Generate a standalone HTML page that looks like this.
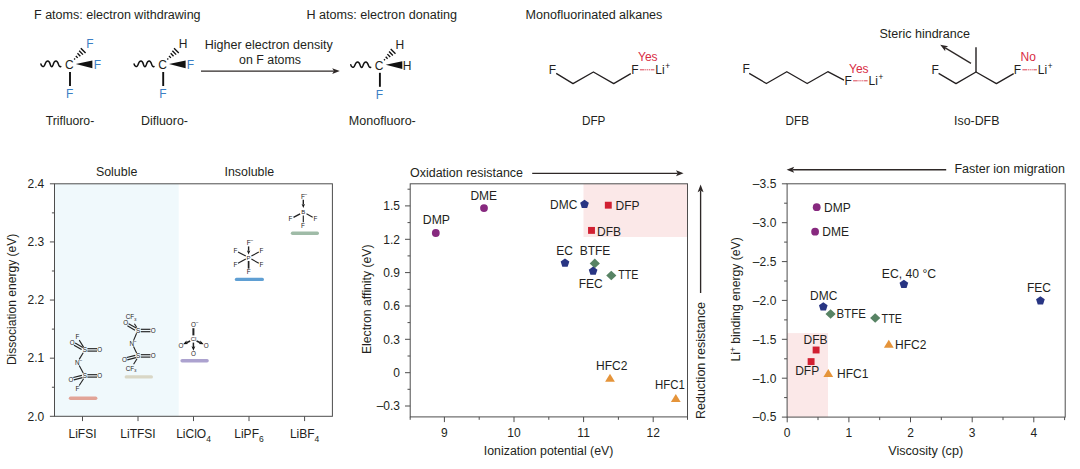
<!DOCTYPE html>
<html lang="en">
<head>
<meta charset="utf-8">
<title>Fluorinated solvents figure</title>
<style>
html,body{margin:0;padding:0;background:#fff;}
body{width:1080px;height:469px;overflow:hidden;font-family:"Liberation Sans",sans-serif;}
svg{display:block;font-family:"Liberation Sans",sans-serif;}
</style>
</head>
<body>
<svg width="1080" height="469" viewBox="0 0 1080 469">
<rect x="0" y="0" width="1080" height="469" fill="#ffffff"/>
<text x="34" y="18.6" font-size="12" fill="#231f20" text-anchor="start" textLength="166.6" lengthAdjust="spacingAndGlyphs">F atoms: electron withdrawing</text>
<text x="306.4" y="18.6" font-size="12" fill="#231f20" text-anchor="start" textLength="150.6" lengthAdjust="spacingAndGlyphs">H atoms: electron donating</text>
<text x="525.6" y="18.6" font-size="12" fill="#231f20" text-anchor="start" textLength="136.8" lengthAdjust="spacingAndGlyphs">Monofluorinated alkanes</text>
<path d="M40.90,64.00 C41.30,66.00 43.60,68.00 44.70,65.00 C45.60,62.40 46.30,61.10 47.80,61.10 C49.50,61.10 49.90,63.40 50.40,65.00 C51.00,67.00 52.20,67.40 53.00,65.00 C53.80,62.40 54.60,61.10 56.00,61.10 C57.70,61.10 58.10,63.40 58.70,65.00 C59.20,66.40 59.90,66.90 60.80,66.50" fill="none" stroke="#111" stroke-width="1.5" stroke-linecap="round"/>
<text x="69.3" y="69.1" font-size="12" fill="#231f20" text-anchor="middle">C</text>
<line x1="70.0" y1="72.0" x2="70.0" y2="86.0" stroke="#111" stroke-width="1.9"/>
<text x="69.6" y="97.69999999999999" font-size="12" fill="#3b7fc4" text-anchor="middle">F</text>
<path d="M75.80,64.00 L92.40,60.40 L92.40,68.20 Z" fill="#111"/>
<text x="97.3" y="69.3" font-size="12" fill="#3b7fc4" text-anchor="middle">F</text>
<line x1="74.11" y1="58.5" x2="75.09" y2="59.5" stroke="#111" stroke-width="1.35"/>
<line x1="75.79" y1="55.92" x2="77.71" y2="57.88" stroke="#111" stroke-width="1.35"/>
<line x1="77.47" y1="53.33" x2="80.33" y2="56.27" stroke="#111" stroke-width="1.35"/>
<line x1="79.15" y1="50.75" x2="82.95" y2="54.65" stroke="#111" stroke-width="1.35"/>
<line x1="80.82" y1="48.17" x2="85.58" y2="53.03" stroke="#111" stroke-width="1.35"/>
<text x="90.0" y="48.0" font-size="12" fill="#3b7fc4" text-anchor="middle">F</text>
<path d="M134.10,64.00 C134.50,66.00 136.80,68.00 137.90,65.00 C138.80,62.40 139.50,61.10 141.00,61.10 C142.70,61.10 143.10,63.40 143.60,65.00 C144.20,67.00 145.40,67.40 146.20,65.00 C147.00,62.40 147.80,61.10 149.20,61.10 C150.90,61.10 151.30,63.40 151.90,65.00 C152.40,66.40 153.10,66.90 154.00,66.50" fill="none" stroke="#111" stroke-width="1.5" stroke-linecap="round"/>
<text x="162.5" y="69.1" font-size="12" fill="#231f20" text-anchor="middle">C</text>
<line x1="163.20000000000002" y1="72.0" x2="163.20000000000002" y2="86.0" stroke="#111" stroke-width="1.9"/>
<text x="162.8" y="97.69999999999999" font-size="12" fill="#3b7fc4" text-anchor="middle">F</text>
<path d="M169.00,64.00 L185.60,60.40 L185.60,68.20 Z" fill="#111"/>
<text x="190.5" y="69.3" font-size="12" fill="#3b7fc4" text-anchor="middle">F</text>
<line x1="167.31" y1="58.5" x2="168.29" y2="59.5" stroke="#111" stroke-width="1.35"/>
<line x1="168.99" y1="55.92" x2="170.91" y2="57.88" stroke="#111" stroke-width="1.35"/>
<line x1="170.67" y1="53.33" x2="173.53" y2="56.27" stroke="#111" stroke-width="1.35"/>
<line x1="172.35" y1="50.75" x2="176.15" y2="54.65" stroke="#111" stroke-width="1.35"/>
<line x1="174.02" y1="48.17" x2="178.78" y2="53.03" stroke="#111" stroke-width="1.35"/>
<text x="183.20000000000002" y="48.0" font-size="12" fill="#231f20" text-anchor="middle">H</text>
<path d="M350.80,64.80 C351.20,66.80 353.50,68.80 354.60,65.80 C355.50,63.20 356.20,61.90 357.70,61.90 C359.40,61.90 359.80,64.20 360.30,65.80 C360.90,67.80 362.10,68.20 362.90,65.80 C363.70,63.20 364.50,61.90 365.90,61.90 C367.60,61.90 368.00,64.20 368.60,65.80 C369.10,67.20 369.80,67.70 370.70,67.30" fill="none" stroke="#111" stroke-width="1.5" stroke-linecap="round"/>
<text x="379.2" y="69.89999999999999" font-size="12" fill="#231f20" text-anchor="middle">C</text>
<line x1="379.9" y1="72.8" x2="379.9" y2="86.8" stroke="#111" stroke-width="1.9"/>
<text x="379.5" y="98.5" font-size="12" fill="#3b7fc4" text-anchor="middle">F</text>
<path d="M385.70,64.80 L402.30,61.20 L402.30,69.00 Z" fill="#111"/>
<text x="407.2" y="70.1" font-size="12" fill="#231f20" text-anchor="middle">H</text>
<line x1="384.01" y1="59.3" x2="384.99" y2="60.3" stroke="#111" stroke-width="1.35"/>
<line x1="385.69" y1="56.72" x2="387.61" y2="58.68" stroke="#111" stroke-width="1.35"/>
<line x1="387.37" y1="54.13" x2="390.23" y2="57.07" stroke="#111" stroke-width="1.35"/>
<line x1="389.05" y1="51.55" x2="392.85" y2="55.45" stroke="#111" stroke-width="1.35"/>
<line x1="390.72" y1="48.97" x2="395.48" y2="53.83" stroke="#111" stroke-width="1.35"/>
<text x="399.9" y="48.8" font-size="12" fill="#231f20" text-anchor="middle">H</text>
<text x="70" y="125" font-size="12" fill="#231f20" text-anchor="middle" textLength="48.5" lengthAdjust="spacingAndGlyphs">Trifluoro-</text>
<text x="164.5" y="125" font-size="12" fill="#231f20" text-anchor="middle" textLength="47" lengthAdjust="spacingAndGlyphs">Difluoro-</text>
<text x="382.3" y="125" font-size="12" fill="#231f20" text-anchor="middle" textLength="67" lengthAdjust="spacingAndGlyphs">Monofluoro-</text>
<text x="268.7" y="49" font-size="12" fill="#231f20" text-anchor="middle" textLength="128" lengthAdjust="spacingAndGlyphs">Higher electron density</text>
<text x="270" y="64.4" font-size="12" fill="#231f20" text-anchor="middle" textLength="62" lengthAdjust="spacingAndGlyphs">on F atoms</text>
<line x1="201" y1="71.1" x2="333.9" y2="71.1" stroke="#2e2827" stroke-width="1.35"/>
<path d="M339.80,71.10 L332.20,74.05 L333.90,71.10 L332.20,68.15 Z" fill="#2e2827"/>
<text x="552.5" y="73.6" font-size="12" fill="#231f20" text-anchor="middle">F</text>
<path d="M556.2,73.4 L573,83.6 L593.4,72 L613.7,83.6 L630.8,73.6" fill="none" stroke="#231f20" stroke-width="1.3" stroke-linejoin="round"/>
<text x="635" y="74.0" font-size="12" fill="#231f20" text-anchor="middle">F</text>
<line x1="639.9" y1="69.8" x2="654.4" y2="69.8" stroke="#d93a4c" stroke-width="0.95" stroke-dasharray="4.6,0.7,1.2,0.7,1.2,0.7,1.2,0.7,4"/>
<text x="655.3" y="74.0" font-size="12" fill="#231f20" text-anchor="start">Li</text>
<text x="665.2" y="69.3" font-size="8.2" fill="#111" text-anchor="start">+</text>
<text x="638" y="60.7" font-size="12" fill="#d82c43" text-anchor="start">Yes</text>
<text x="593.7" y="125" font-size="12" fill="#231f20" text-anchor="middle" textLength="23.4" lengthAdjust="spacingAndGlyphs">DFP</text>
<text x="746.2" y="73.2" font-size="12" fill="#231f20" text-anchor="middle">F</text>
<path d="M749.2,73.4 L766.4,83.5 L786.8,71.7 L807.2,83.5 L827.8,71.7 L844,80.2" fill="none" stroke="#231f20" stroke-width="1.3" stroke-linejoin="round"/>
<text x="848.2" y="85" font-size="12" fill="#231f20" text-anchor="middle">F</text>
<line x1="853.1" y1="80.8" x2="867.6" y2="80.8" stroke="#d93a4c" stroke-width="0.95" stroke-dasharray="4.6,0.7,1.2,0.7,1.2,0.7,1.2,0.7,4"/>
<text x="868.5" y="85" font-size="12" fill="#231f20" text-anchor="start">Li</text>
<text x="878.4000000000001" y="80.3" font-size="8.2" fill="#111" text-anchor="start">+</text>
<text x="849" y="73.4" font-size="12" fill="#d82c43" text-anchor="start">Yes</text>
<text x="797.3" y="125" font-size="12" fill="#231f20" text-anchor="middle" textLength="23.4" lengthAdjust="spacingAndGlyphs">DFB</text>
<text x="935.2" y="73.6" font-size="12" fill="#231f20" text-anchor="middle">F</text>
<path d="M938.6,73.4 L956,83.6 L976,72 L996.4,83.6 L1013.7,73.6" fill="none" stroke="#231f20" stroke-width="1.3" stroke-linejoin="round"/>
<line x1="976" y1="72" x2="976" y2="47.2" stroke="#231f20" stroke-width="1.4"/>
<text x="1017.5" y="74.0" font-size="12" fill="#231f20" text-anchor="middle">F</text>
<line x1="1022.4" y1="69.8" x2="1036.9" y2="69.8" stroke="#d93a4c" stroke-width="0.95" stroke-dasharray="4.6,0.7,1.2,0.7,1.2,0.7,1.2,0.7,4"/>
<text x="1037.8" y="74.0" font-size="12" fill="#231f20" text-anchor="start">Li</text>
<text x="1047.7" y="69.3" font-size="8.2" fill="#111" text-anchor="start">+</text>
<text x="1020.6" y="60.7" font-size="12" fill="#d82c43" text-anchor="start">No</text>
<text x="976.7" y="125" font-size="12" fill="#231f20" text-anchor="middle" textLength="45.4" lengthAdjust="spacingAndGlyphs">Iso-DFB</text>
<text x="879.4" y="38" font-size="12" fill="#231f20" text-anchor="start" textLength="90.6" lengthAdjust="spacingAndGlyphs">Steric hindrance</text>
<line x1="971" y1="63.3" x2="945.26" y2="47.84" stroke="#2e2827" stroke-width="1.35"/>
<path d="M940.20,44.80 L948.23,46.18 L945.26,47.84 L945.20,51.24 Z" fill="#2e2827"/>
<rect x="54.5" y="183.8" width="124.19999999999999" height="232.5" fill="#f0f9fc"/>
<rect x="54.5" y="183.8" width="277.9" height="232.5" fill="none" stroke="#4d4d4d" stroke-width="1"/>
<line x1="49.9" y1="183.8" x2="54.5" y2="183.8" stroke="#4d4d4d" stroke-width="1"/>
<text x="44.3" y="188.10000000000002" font-size="12" fill="#231f20" text-anchor="end">2.4</text>
<line x1="51.9" y1="212.8625" x2="54.5" y2="212.8625" stroke="#4d4d4d" stroke-width="1"/>
<line x1="49.9" y1="241.925" x2="54.5" y2="241.925" stroke="#4d4d4d" stroke-width="1"/>
<text x="44.3" y="246.22500000000002" font-size="12" fill="#231f20" text-anchor="end">2.3</text>
<line x1="51.9" y1="270.9875" x2="54.5" y2="270.9875" stroke="#4d4d4d" stroke-width="1"/>
<line x1="49.9" y1="300.05" x2="54.5" y2="300.05" stroke="#4d4d4d" stroke-width="1"/>
<text x="44.3" y="304.35" font-size="12" fill="#231f20" text-anchor="end">2.2</text>
<line x1="51.9" y1="329.1125" x2="54.5" y2="329.1125" stroke="#4d4d4d" stroke-width="1"/>
<line x1="49.9" y1="358.175" x2="54.5" y2="358.175" stroke="#4d4d4d" stroke-width="1"/>
<text x="44.3" y="362.475" font-size="12" fill="#231f20" text-anchor="end">2.1</text>
<line x1="51.9" y1="387.2375" x2="54.5" y2="387.2375" stroke="#4d4d4d" stroke-width="1"/>
<line x1="49.9" y1="416.3" x2="54.5" y2="416.3" stroke="#4d4d4d" stroke-width="1"/>
<text x="44.3" y="420.6" font-size="12" fill="#231f20" text-anchor="end">2.0</text>
<line x1="82.5" y1="416.3" x2="82.5" y2="421.1" stroke="#4d4d4d" stroke-width="1"/>
<text x="82.5" y="437.7" font-size="12" fill="#231f20" text-anchor="middle">LiFSI</text>
<line x1="138" y1="416.3" x2="138" y2="421.1" stroke="#4d4d4d" stroke-width="1"/>
<text x="138" y="437.7" font-size="12" fill="#231f20" text-anchor="middle">LiTFSI</text>
<line x1="193.5" y1="416.3" x2="193.5" y2="421.1" stroke="#4d4d4d" stroke-width="1"/>
<text x="193.5" y="437.7" font-size="12" fill="#231f20" text-anchor="middle">LiClO<tspan font-size="8.5" dy="4">4</tspan></text>
<line x1="249" y1="416.3" x2="249" y2="421.1" stroke="#4d4d4d" stroke-width="1"/>
<text x="249" y="437.7" font-size="12" fill="#231f20" text-anchor="middle">LiPF<tspan font-size="8.5" dy="4">6</tspan></text>
<line x1="304.6" y1="416.3" x2="304.6" y2="421.1" stroke="#4d4d4d" stroke-width="1"/>
<text x="304.6" y="437.7" font-size="12" fill="#231f20" text-anchor="middle">LiBF<tspan font-size="8.5" dy="4">4</tspan></text>
<text x="116.6" y="175.5" font-size="12" fill="#231f20" text-anchor="middle" textLength="41.4" lengthAdjust="spacingAndGlyphs">Soluble</text>
<text x="249.3" y="175.5" font-size="12" fill="#231f20" text-anchor="middle" textLength="49.6" lengthAdjust="spacingAndGlyphs">Insoluble</text>
<text transform="translate(15.8,299.4) rotate(-90)" font-size="12" fill="#231f20" text-anchor="middle" textLength="131.4" lengthAdjust="spacingAndGlyphs">Dissociation energy (eV)</text>
<line x1="70.5" y1="398.2" x2="95.7" y2="398.2" stroke="#e2a497" stroke-width="3.4" stroke-linecap="round"/>
<line x1="126.3" y1="376.9" x2="151.3" y2="376.9" stroke="#d9d7c6" stroke-width="3.4" stroke-linecap="round"/>
<line x1="182.1" y1="360.7" x2="207.10000000000002" y2="360.7" stroke="#aca2cf" stroke-width="3.4" stroke-linecap="round"/>
<line x1="236.5" y1="279.4" x2="262.3" y2="279.4" stroke="#5f9fd3" stroke-width="3.4" stroke-linecap="round"/>
<line x1="292.5" y1="233.3" x2="317.3" y2="233.3" stroke="#9fbba7" stroke-width="3.4" stroke-linecap="round"/>
<text x="84.8" y="352.16799999999995" font-size="6.3" fill="#262223" text-anchor="middle">S</text>
<text x="84.8" y="378.16799999999995" font-size="6.3" fill="#262223" text-anchor="middle">S</text>
<text x="99.8" y="352.16799999999995" font-size="6.3" fill="#262223" text-anchor="middle">O</text>
<text x="99.8" y="378.16799999999995" font-size="6.3" fill="#262223" text-anchor="middle">O</text>
<line x1="87.4" y1="351.1" x2="97.0" y2="351.1" stroke="#222" stroke-width="1.15"/>
<line x1="87.4" y1="348.7" x2="97.0" y2="348.7" stroke="#222" stroke-width="1.15"/>
<line x1="87.4" y1="377.1" x2="97.0" y2="377.1" stroke="#222" stroke-width="1.15"/>
<line x1="87.4" y1="374.7" x2="97.0" y2="374.7" stroke="#222" stroke-width="1.15"/>
<text x="77.39999999999999" y="364.66799999999995" font-size="6.3" fill="#262223" text-anchor="middle">N</text>
<text x="80.8" y="361.856" font-size="4.6" fill="#262223" text-anchor="middle">&#8211;</text>
<line x1="83.2" y1="352.7" x2="79.2" y2="359.4" stroke="#222" stroke-width="1.1"/>
<line x1="79.2" y1="365.4" x2="83.2" y2="373.09999999999997" stroke="#222" stroke-width="1.1"/>
<text x="72.2" y="344.768" font-size="6.3" fill="#262223" text-anchor="middle">O</text>
<line x1="74.0" y1="345.14" x2="81.6" y2="349.54" stroke="#222" stroke-width="1.15"/>
<line x1="75.2" y1="343.06" x2="82.8" y2="347.46" stroke="#222" stroke-width="1.15"/>
<text x="77.39999999999999" y="339.36799999999994" font-size="6.3" fill="#262223" text-anchor="middle">F</text>
<line x1="79.2" y1="340.09999999999997" x2="83.6" y2="347.09999999999997" stroke="#222" stroke-width="1.1"/>
<text x="71.0" y="381.768" font-size="6.3" fill="#262223" text-anchor="middle">O</text>
<line x1="73.9" y1="379.86" x2="82.5" y2="377.66" stroke="#222" stroke-width="1.15"/>
<line x1="73.3" y1="377.54" x2="81.9" y2="375.34" stroke="#222" stroke-width="1.15"/>
<text x="77.39999999999999" y="390.768" font-size="6.3" fill="#262223" text-anchor="middle">F</text>
<line x1="79.2" y1="385.5" x2="83.6" y2="378.7" stroke="#222" stroke-width="1.1"/>
<text x="138.2" y="332.768" font-size="6.3" fill="#262223" text-anchor="middle">S</text>
<text x="138.2" y="358.16799999999995" font-size="6.3" fill="#262223" text-anchor="middle">S</text>
<text x="153.2" y="332.768" font-size="6.3" fill="#262223" text-anchor="middle">O</text>
<text x="153.2" y="358.16799999999995" font-size="6.3" fill="#262223" text-anchor="middle">O</text>
<line x1="140.8" y1="331.7" x2="150.4" y2="331.7" stroke="#222" stroke-width="1.15"/>
<line x1="140.8" y1="329.3" x2="150.4" y2="329.3" stroke="#222" stroke-width="1.15"/>
<line x1="140.8" y1="357.1" x2="150.4" y2="357.1" stroke="#222" stroke-width="1.15"/>
<line x1="140.8" y1="354.7" x2="150.4" y2="354.7" stroke="#222" stroke-width="1.15"/>
<text x="131.7" y="345.868" font-size="6.3" fill="#262223" text-anchor="middle">N</text>
<text x="135.1" y="343.05600000000004" font-size="4.6" fill="#262223" text-anchor="middle">&#8211;</text>
<line x1="136.6" y1="333.3" x2="133.5" y2="340.6" stroke="#222" stroke-width="1.1"/>
<line x1="133.5" y1="346.6" x2="136.6" y2="353.09999999999997" stroke="#222" stroke-width="1.1"/>
<text x="125.6" y="325.368" font-size="6.3" fill="#262223" text-anchor="middle">O</text>
<line x1="127.4" y1="325.74" x2="135.0" y2="330.14" stroke="#222" stroke-width="1.15"/>
<line x1="128.6" y1="323.66" x2="136.2" y2="328.06" stroke="#222" stroke-width="1.15"/>
<text x="131.1" y="319.368" font-size="6.3" fill="#262223" text-anchor="middle">CF<tspan font-size="4.4" dy="1.5">3</tspan></text>
<line x1="134.39999999999998" y1="323.7" x2="136.79999999999998" y2="327.5" stroke="#222" stroke-width="1.1"/>
<text x="124.39999999999999" y="361.768" font-size="6.3" fill="#262223" text-anchor="middle">O</text>
<line x1="127.3" y1="359.86" x2="135.9" y2="357.66" stroke="#222" stroke-width="1.15"/>
<line x1="126.7" y1="357.54" x2="135.3" y2="355.34" stroke="#222" stroke-width="1.15"/>
<text x="131.1" y="370.768" font-size="6.3" fill="#262223" text-anchor="middle">CF<tspan font-size="4.4" dy="1.5">3</tspan></text>
<line x1="133.6" y1="364.29999999999995" x2="137.0" y2="358.7" stroke="#222" stroke-width="1.1"/>
<text x="193.6" y="341.36" font-size="6.0" fill="#262223" text-anchor="middle">Cl</text>
<text x="193.4" y="326.86799999999994" font-size="6.3" fill="#262223" text-anchor="middle">O</text>
<text x="197.0" y="324.056" font-size="4.6" fill="#262223" text-anchor="middle">&#8211;</text>
<line x1="193.4" y1="328.2" x2="193.4" y2="335.4" stroke="#222" stroke-width="2.0"/>
<text x="181.0" y="347.66799999999995" font-size="6.3" fill="#262223" text-anchor="middle">O</text>
<text x="206.20000000000002" y="347.66799999999995" font-size="6.3" fill="#262223" text-anchor="middle">O</text>
<text x="193.4" y="355.768" font-size="6.3" fill="#262223" text-anchor="middle">O</text>
<line x1="190.20000000000002" y1="341.0" x2="186.4" y2="342.8" stroke="#222" stroke-width="1.5"/>
<path transform="translate(183.4,344.09999999999997) rotate(155)" d="M0.3,0 L-4.3,-1.892 L-3.354,0 L-4.3,1.892 Z" fill="#111"/>
<line x1="196.6" y1="341.0" x2="200.4" y2="342.8" stroke="#222" stroke-width="1.5"/>
<path transform="translate(203.4,344.09999999999997) rotate(25)" d="M0.3,0 L-4.3,-1.892 L-3.354,0 L-4.3,1.892 Z" fill="#111"/>
<line x1="193.4" y1="342.59999999999997" x2="193.4" y2="347.2" stroke="#222" stroke-width="1.5"/>
<path transform="translate(193.4,350.5) rotate(90)" d="M0.3,0 L-4.3,-1.892 L-3.354,0 L-4.3,1.892 Z" fill="#111"/>
<text x="248.6" y="259.76000000000005" font-size="6.0" fill="#262223" text-anchor="middle">P</text>
<text x="248.79999999999998" y="245.46800000000002" font-size="6.3" fill="#262223" text-anchor="middle">F</text>
<text x="251.79999999999998" y="242.45600000000002" font-size="4.6" fill="#262223" text-anchor="middle">&#8211;</text>
<line x1="248.6" y1="246.40000000000003" x2="248.6" y2="250.8" stroke="#222" stroke-width="1.4"/>
<path transform="translate(248.6,254.20000000000002) rotate(90)" d="M0.3,0 L-3.8,-1.672 L-2.964,0 L-3.8,1.672 Z" fill="#111"/>
<text x="235.4" y="252.66800000000003" font-size="6.3" fill="#262223" text-anchor="middle">F</text>
<text x="261.4" y="252.66800000000003" font-size="6.3" fill="#262223" text-anchor="middle">F</text>
<text x="235.4" y="266.868" font-size="6.3" fill="#262223" text-anchor="middle">F</text>
<text x="261.4" y="266.868" font-size="6.3" fill="#262223" text-anchor="middle">F</text>
<line x1="238.0" y1="252.00000000000003" x2="245.79999999999998" y2="256.1" stroke="#222" stroke-width="1.15"/>
<line x1="258.8" y1="252.00000000000003" x2="251.4" y2="256.1" stroke="#222" stroke-width="1.15"/>
<line x1="238.0" y1="263.20000000000005" x2="245.79999999999998" y2="259.1" stroke="#222" stroke-width="1.15"/>
<line x1="258.8" y1="263.20000000000005" x2="251.4" y2="259.1" stroke="#222" stroke-width="1.15"/>
<line x1="248.6" y1="261.0" x2="248.6" y2="268.6" stroke="#222" stroke-width="1.7"/>
<text x="248.6" y="273.868" font-size="6.3" fill="#262223" text-anchor="middle">F</text>
<text x="303.3" y="214.16" font-size="6.0" fill="#262223" text-anchor="middle">B</text>
<text x="302.90000000000003" y="198.668" font-size="6.3" fill="#262223" text-anchor="middle">F</text>
<text x="305.90000000000003" y="195.656" font-size="4.6" fill="#262223" text-anchor="middle">&#8211;</text>
<line x1="303.3" y1="199.8" x2="303.3" y2="204.4" stroke="#222" stroke-width="1.4"/>
<path transform="translate(303.3,207.8) rotate(90)" d="M0.3,0 L-3.8,-1.672 L-2.964,0 L-3.8,1.672 Z" fill="#111"/>
<text x="290.5" y="221.068" font-size="6.3" fill="#262223" text-anchor="middle">F</text>
<text x="315.5" y="221.068" font-size="6.3" fill="#262223" text-anchor="middle">F</text>
<text x="303.0" y="227.668" font-size="6.3" fill="#262223" text-anchor="middle">F</text>
<line x1="300.1" y1="213.8" x2="293.5" y2="217.4" stroke="#222" stroke-width="1.4"/>
<line x1="306.5" y1="213.8" x2="312.7" y2="217.2" stroke="#222" stroke-width="1.15"/>
<line x1="303.3" y1="215.4" x2="303.3" y2="222.2" stroke="#222" stroke-width="1.15"/>
<rect x="583.5" y="183.8" width="104.0" height="53.19999999999999" fill="#fbe8e8"/>
<rect x="410.2" y="183.8" width="277.3" height="233.09999999999997" fill="none" stroke="#4d4d4d" stroke-width="1"/>
<line x1="405.0" y1="205.9" x2="410.2" y2="205.9" stroke="#4d4d4d" stroke-width="1"/>
<text x="400.0" y="210.20000000000002" font-size="12" fill="#231f20" text-anchor="end">1.5</text>
<line x1="405.0" y1="239.3" x2="410.2" y2="239.3" stroke="#4d4d4d" stroke-width="1"/>
<text x="400.0" y="243.60000000000002" font-size="12" fill="#231f20" text-anchor="end">1.2</text>
<line x1="405.0" y1="272.6" x2="410.2" y2="272.6" stroke="#4d4d4d" stroke-width="1"/>
<text x="400.0" y="276.90000000000003" font-size="12" fill="#231f20" text-anchor="end">0.9</text>
<line x1="405.0" y1="306.0" x2="410.2" y2="306.0" stroke="#4d4d4d" stroke-width="1"/>
<text x="400.0" y="310.3" font-size="12" fill="#231f20" text-anchor="end">0.6</text>
<line x1="405.0" y1="339.3" x2="410.2" y2="339.3" stroke="#4d4d4d" stroke-width="1"/>
<text x="400.0" y="343.6" font-size="12" fill="#231f20" text-anchor="end">0.3</text>
<line x1="405.0" y1="372.7" x2="410.2" y2="372.7" stroke="#4d4d4d" stroke-width="1"/>
<text x="400.0" y="377.0" font-size="12" fill="#231f20" text-anchor="end">0</text>
<line x1="405.0" y1="406.0" x2="410.2" y2="406.0" stroke="#4d4d4d" stroke-width="1"/>
<text x="400.0" y="410.3" font-size="12" fill="#231f20" text-anchor="end">&#8211;0.3</text>
<line x1="407.5" y1="189.2" x2="410.2" y2="189.2" stroke="#4d4d4d" stroke-width="1"/>
<line x1="407.5" y1="222.6" x2="410.2" y2="222.6" stroke="#4d4d4d" stroke-width="1"/>
<line x1="407.5" y1="255.9" x2="410.2" y2="255.9" stroke="#4d4d4d" stroke-width="1"/>
<line x1="407.5" y1="289.3" x2="410.2" y2="289.3" stroke="#4d4d4d" stroke-width="1"/>
<line x1="407.5" y1="322.6" x2="410.2" y2="322.6" stroke="#4d4d4d" stroke-width="1"/>
<line x1="407.5" y1="356.0" x2="410.2" y2="356.0" stroke="#4d4d4d" stroke-width="1"/>
<line x1="407.5" y1="389.3" x2="410.2" y2="389.3" stroke="#4d4d4d" stroke-width="1"/>
<line x1="444.4" y1="416.9" x2="444.4" y2="422.09999999999997" stroke="#4d4d4d" stroke-width="1"/>
<text x="444.4" y="437.3" font-size="12" fill="#231f20" text-anchor="middle">9</text>
<line x1="514.0" y1="416.9" x2="514.0" y2="422.09999999999997" stroke="#4d4d4d" stroke-width="1"/>
<text x="514.0" y="437.3" font-size="12" fill="#231f20" text-anchor="middle">10</text>
<line x1="583.6" y1="416.9" x2="583.6" y2="422.09999999999997" stroke="#4d4d4d" stroke-width="1"/>
<text x="583.6" y="437.3" font-size="12" fill="#231f20" text-anchor="middle">11</text>
<line x1="653.2" y1="416.9" x2="653.2" y2="422.09999999999997" stroke="#4d4d4d" stroke-width="1"/>
<text x="653.2" y="437.3" font-size="12" fill="#231f20" text-anchor="middle">12</text>
<line x1="410.2" y1="416.9" x2="410.2" y2="419.79999999999995" stroke="#4d4d4d" stroke-width="1"/>
<line x1="479.2" y1="416.9" x2="479.2" y2="419.79999999999995" stroke="#4d4d4d" stroke-width="1"/>
<line x1="548.8" y1="416.9" x2="548.8" y2="419.79999999999995" stroke="#4d4d4d" stroke-width="1"/>
<line x1="618.4" y1="416.9" x2="618.4" y2="419.79999999999995" stroke="#4d4d4d" stroke-width="1"/>
<line x1="687.5" y1="416.9" x2="687.5" y2="419.79999999999995" stroke="#4d4d4d" stroke-width="1"/>
<text x="548.6" y="455" font-size="12" fill="#231f20" text-anchor="middle" textLength="129.5" lengthAdjust="spacingAndGlyphs">Ionization potential (eV)</text>
<text transform="translate(370.8,299.3) rotate(-90)" font-size="12" fill="#231f20" text-anchor="middle" textLength="109.6" lengthAdjust="spacingAndGlyphs">Electron affinity (eV)</text>
<text x="410" y="177.2" font-size="12" fill="#231f20" text-anchor="start" textLength="113" lengthAdjust="spacingAndGlyphs">Oxidation resistance</text>
<line x1="532.2" y1="173.3" x2="677.7" y2="173.3" stroke="#2e2827" stroke-width="1.35"/>
<path d="M683.60,173.30 L676.00,176.25 L677.70,173.30 L676.00,170.35 Z" fill="#2e2827"/>
<line x1="700.6" y1="293" x2="700.6" y2="190.5" stroke="#2e2827" stroke-width="1.35"/>
<path d="M700.60,184.60 L703.55,192.20 L700.60,190.50 L697.65,192.20 Z" fill="#2e2827"/>
<text transform="translate(704.8,360.6) rotate(-90)" font-size="12" fill="#231f20" text-anchor="middle" textLength="117" lengthAdjust="spacingAndGlyphs">Reduction resistance</text>
<circle cx="435.8" cy="233" r="3.9" fill="#87297f"/>
<text x="436.4" y="223.8" font-size="12" fill="#231f20" text-anchor="middle" textLength="27.2" lengthAdjust="spacingAndGlyphs">DMP</text>
<circle cx="484" cy="208.1" r="3.9" fill="#87297f"/>
<text x="483.7" y="200.2" font-size="12" fill="#231f20" text-anchor="middle" textLength="26.6" lengthAdjust="spacingAndGlyphs">DME</text>
<polygon points="584.50,199.65 588.83,202.79 587.17,207.88 581.83,207.88 580.17,202.79" fill="#283583"/>
<text x="577.3" y="208.6" font-size="12" fill="#231f20" text-anchor="end" textLength="27.2" lengthAdjust="spacingAndGlyphs">DMC</text>
<rect x="604.8499999999999" y="201.75" width="6.9" height="6.9" fill="#d12032"/>
<text x="615.5" y="209.7" font-size="12" fill="#231f20" text-anchor="start">DFP</text>
<rect x="588.05" y="226.95000000000002" width="6.9" height="6.9" fill="#d12032"/>
<text x="597" y="235.7" font-size="12" fill="#231f20" text-anchor="start">DFB</text>
<polygon points="565.00,258.45 569.33,261.59 567.67,266.68 562.33,266.68 560.67,261.59" fill="#283583"/>
<text x="564.7" y="255.3" font-size="12" fill="#231f20" text-anchor="middle">EC</text>
<polygon points="589.6999999999999,263.4 594.8,258.59999999999997 599.9,263.4 594.8,268.2" fill="#578364"/>
<text x="595" y="255.4" font-size="12" fill="#231f20" text-anchor="middle">BTFE</text>
<polygon points="593.10,266.55 597.43,269.69 595.77,274.78 590.43,274.78 588.77,269.69" fill="#283583"/>
<text x="590.7" y="288.2" font-size="12" fill="#231f20" text-anchor="middle">FEC</text>
<polygon points="606.1999999999999,275.5 611.3,270.7 616.4,275.5 611.3,280.3" fill="#578364"/>
<text x="618.3" y="279.2" font-size="12" fill="#231f20" text-anchor="start" textLength="20.2" lengthAdjust="spacingAndGlyphs">TTE</text>
<polygon points="605.1,381.8 614.9,381.8 610,373.8" fill="#e5943a"/>
<text x="611.7" y="369.9" font-size="12" fill="#231f20" text-anchor="middle" textLength="31.4" lengthAdjust="spacingAndGlyphs">HFC2</text>
<polygon points="670.9,402.0 680.6999999999999,402.0 675.8,394.0" fill="#e5943a"/>
<text x="669.9" y="389.3" font-size="12" fill="#231f20" text-anchor="middle" textLength="29.8" lengthAdjust="spacingAndGlyphs">HFC1</text>
<rect x="787.1" y="333.1" width="40.89999999999998" height="84.0" fill="#fbe8e8"/>
<rect x="787.1" y="183.8" width="278.1" height="233.3" fill="none" stroke="#4d4d4d" stroke-width="1"/>
<line x1="781.9" y1="183.8" x2="787.1" y2="183.8" stroke="#4d4d4d" stroke-width="1"/>
<text x="776.4" y="188.10000000000002" font-size="12" fill="#231f20" text-anchor="end" textLength="23.6" lengthAdjust="spacing">&#8211;3.5</text>
<line x1="784.1" y1="203.2" x2="787.1" y2="203.2" stroke="#4d4d4d" stroke-width="1"/>
<line x1="781.9" y1="222.7" x2="787.1" y2="222.7" stroke="#4d4d4d" stroke-width="1"/>
<text x="776.4" y="227.0" font-size="12" fill="#231f20" text-anchor="end" textLength="23.6" lengthAdjust="spacing">&#8211;3.0</text>
<line x1="784.1" y1="242.1" x2="787.1" y2="242.1" stroke="#4d4d4d" stroke-width="1"/>
<line x1="781.9" y1="261.6" x2="787.1" y2="261.6" stroke="#4d4d4d" stroke-width="1"/>
<text x="776.4" y="265.90000000000003" font-size="12" fill="#231f20" text-anchor="end" textLength="23.6" lengthAdjust="spacing">&#8211;2.5</text>
<line x1="784.1" y1="281.0" x2="787.1" y2="281.0" stroke="#4d4d4d" stroke-width="1"/>
<line x1="781.9" y1="300.4" x2="787.1" y2="300.4" stroke="#4d4d4d" stroke-width="1"/>
<text x="776.4" y="304.7" font-size="12" fill="#231f20" text-anchor="end" textLength="23.6" lengthAdjust="spacing">&#8211;2.0</text>
<line x1="784.1" y1="319.9" x2="787.1" y2="319.9" stroke="#4d4d4d" stroke-width="1"/>
<line x1="781.9" y1="339.3" x2="787.1" y2="339.3" stroke="#4d4d4d" stroke-width="1"/>
<text x="776.4" y="343.6" font-size="12" fill="#231f20" text-anchor="end" textLength="23.6" lengthAdjust="spacing">&#8211;1.5</text>
<line x1="784.1" y1="358.8" x2="787.1" y2="358.8" stroke="#4d4d4d" stroke-width="1"/>
<line x1="781.9" y1="378.2" x2="787.1" y2="378.2" stroke="#4d4d4d" stroke-width="1"/>
<text x="776.4" y="382.5" font-size="12" fill="#231f20" text-anchor="end" textLength="23.6" lengthAdjust="spacing">&#8211;1.0</text>
<line x1="784.1" y1="397.6" x2="787.1" y2="397.6" stroke="#4d4d4d" stroke-width="1"/>
<line x1="781.9" y1="417.1" x2="787.1" y2="417.1" stroke="#4d4d4d" stroke-width="1"/>
<text x="776.4" y="421.40000000000003" font-size="12" fill="#231f20" text-anchor="end" textLength="23.6" lengthAdjust="spacing">&#8211;0.5</text>
<line x1="787.2" y1="417.1" x2="787.2" y2="422.3" stroke="#4d4d4d" stroke-width="1"/>
<text x="787.2" y="437.3" font-size="12" fill="#231f20" text-anchor="middle">0</text>
<line x1="818.0" y1="417.1" x2="818.0" y2="420.1" stroke="#4d4d4d" stroke-width="1"/>
<line x1="848.9" y1="417.1" x2="848.9" y2="422.3" stroke="#4d4d4d" stroke-width="1"/>
<text x="848.9" y="437.3" font-size="12" fill="#231f20" text-anchor="middle">1</text>
<line x1="879.7" y1="417.1" x2="879.7" y2="420.1" stroke="#4d4d4d" stroke-width="1"/>
<line x1="910.5" y1="417.1" x2="910.5" y2="422.3" stroke="#4d4d4d" stroke-width="1"/>
<text x="910.5" y="437.3" font-size="12" fill="#231f20" text-anchor="middle">2</text>
<line x1="941.3" y1="417.1" x2="941.3" y2="420.1" stroke="#4d4d4d" stroke-width="1"/>
<line x1="972.2" y1="417.1" x2="972.2" y2="422.3" stroke="#4d4d4d" stroke-width="1"/>
<text x="972.2" y="437.3" font-size="12" fill="#231f20" text-anchor="middle">3</text>
<line x1="1003.0" y1="417.1" x2="1003.0" y2="420.1" stroke="#4d4d4d" stroke-width="1"/>
<line x1="1033.8" y1="417.1" x2="1033.8" y2="422.3" stroke="#4d4d4d" stroke-width="1"/>
<text x="1033.8" y="437.3" font-size="12" fill="#231f20" text-anchor="middle">4</text>
<line x1="1064.6" y1="417.1" x2="1064.6" y2="420.1" stroke="#4d4d4d" stroke-width="1"/>
<text x="925.7" y="455" font-size="12" fill="#231f20" text-anchor="middle" textLength="75" lengthAdjust="spacingAndGlyphs">Viscosity (cp)</text>
<text transform="translate(739.8,361.6) rotate(-90)" font-size="12" fill="#231f20" text-anchor="start" textLength="124.4" lengthAdjust="spacingAndGlyphs">Li<tspan font-size="8.5" dy="-4.2">+</tspan><tspan dy="4.2"> binding energy (eV)</tspan></text>
<text x="954.4" y="172.9" font-size="12" fill="#231f20" text-anchor="start" textLength="110.5" lengthAdjust="spacingAndGlyphs">Faster ion migration</text>
<line x1="946.2" y1="169.7" x2="792.5" y2="169.7" stroke="#2e2827" stroke-width="1.35"/>
<path d="M786.60,169.70 L794.20,166.75 L792.50,169.70 L794.20,172.65 Z" fill="#2e2827"/>
<circle cx="816.7" cy="207.2" r="3.9" fill="#87297f"/>
<text x="824" y="211.5" font-size="12" fill="#231f20" text-anchor="start">DMP</text>
<circle cx="815.1" cy="231.7" r="3.9" fill="#87297f"/>
<text x="822.3" y="236" font-size="12" fill="#231f20" text-anchor="start">DME</text>
<polygon points="823.30,302.15 827.63,305.29 825.97,310.38 820.63,310.38 818.97,305.29" fill="#283583"/>
<text x="823.7" y="300.3" font-size="12" fill="#231f20" text-anchor="middle" textLength="27.2" lengthAdjust="spacingAndGlyphs">DMC</text>
<polygon points="825.5,314 830.6,309.2 835.7,314 830.6,318.8" fill="#578364"/>
<text x="836.6" y="318" font-size="12" fill="#231f20" text-anchor="start" textLength="29.2" lengthAdjust="spacingAndGlyphs">BTFE</text>
<polygon points="870.1,318 875.2,313.2 880.3000000000001,318 875.2,322.8" fill="#578364"/>
<text x="881.6" y="322.5" font-size="12" fill="#231f20" text-anchor="start" textLength="20.4" lengthAdjust="spacingAndGlyphs">TTE</text>
<polygon points="903.90,279.65 908.23,282.79 906.57,287.88 901.23,287.88 899.57,282.79" fill="#283583"/>
<text x="881.8" y="277.5" font-size="12" fill="#231f20" text-anchor="start" textLength="54.3" lengthAdjust="spacingAndGlyphs">EC, 40 &#176;C</text>
<polygon points="1040.40,296.15 1044.73,299.29 1043.07,304.38 1037.73,304.38 1036.07,299.29" fill="#283583"/>
<text x="1039" y="291.5" font-size="12" fill="#231f20" text-anchor="middle">FEC</text>
<rect x="812.65" y="346.55" width="6.9" height="6.9" fill="#d12032"/>
<text x="815.6" y="343.7" font-size="12" fill="#231f20" text-anchor="middle">DFB</text>
<rect x="807.65" y="358.15000000000003" width="6.9" height="6.9" fill="#d12032"/>
<text x="807.2" y="374.5" font-size="12" fill="#231f20" text-anchor="middle">DFP</text>
<polygon points="823.4,377.1 833.1999999999999,377.1 828.3,369.1" fill="#e5943a"/>
<text x="837" y="378.3" font-size="12" fill="#231f20" text-anchor="start">HFC1</text>
<polygon points="883.9,347.7 893.6999999999999,347.7 888.8,339.7" fill="#e5943a"/>
<text x="895" y="348.5" font-size="12" fill="#231f20" text-anchor="start">HFC2</text>
</svg>
</body>
</html>
